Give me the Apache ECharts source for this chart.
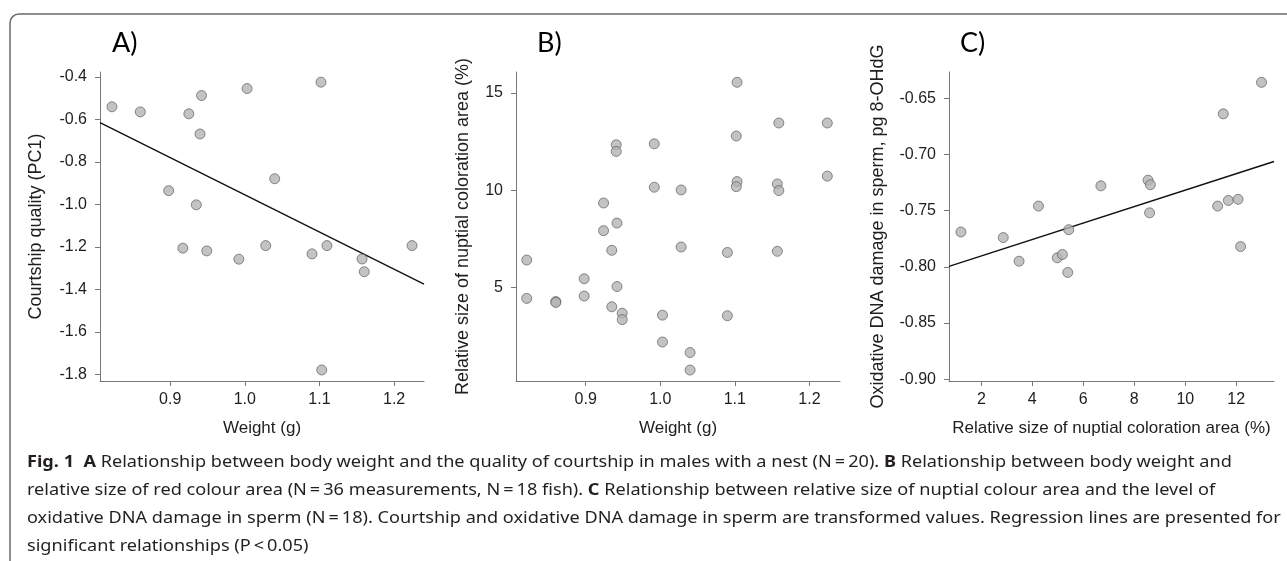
<!DOCTYPE html>
<html>
<head>
<meta charset="utf-8">
<script src="https://cdn.jsdelivr.net/npm/echarts@6/dist/echarts.min.js"></script>
<style>
html,body{margin:0;padding:0;background:#fff;}
#chart{width:1287px;height:561px;}
</style>
</head>
<body>
<div id="chart"></div>
<script>
// ---- Panel A: weight vs courtship quality ----
const weightA = [0.822,0.860,0.925,0.942,0.940,1.003,1.102,1.040,0.898,0.935,0.917,0.949,0.992,1.028,1.090,1.110,1.157,1.160,1.224,1.103];
const courtA  = [-0.540,-0.564,-0.573,-0.487,-0.668,-0.454,-0.424,-0.879,-0.935,-1.002,-1.206,-1.219,-1.258,-1.194,-1.233,-1.194,-1.257,-1.317,-1.194,-1.780];
const regAx = [0.806, 1.240];
const regAy = [-0.614, -1.375];

// ---- Panel B: weight vs nuptial coloration ----
const weightB = [1.103,1.159,1.224,1.102,0.941,0.941,0.992,0.992,1.028,1.103,1.102,1.157,1.159,1.224,0.924,0.942,0.924,0.935,1.028,1.090,1.157,0.821,0.821,0.860,0.860,0.898,0.898,0.942,0.935,0.949,0.949,1.003,1.003,1.040,1.040,1.090];
const colorB  = [15.55,13.46,13.46,12.79,12.34,12.00,12.39,10.16,10.02,10.45,10.19,10.33,9.99,10.73,9.35,8.32,7.93,6.92,7.09,6.81,6.87,6.42,4.45,4.29,4.24,5.46,4.57,5.06,4.02,3.69,3.36,3.59,2.21,1.67,0.77,3.56];

// ---- Panel C: coloration vs oxidative DNA damage ----
const colorC = [1.20,2.86,3.48,4.24,4.98,5.18,5.39,5.43,6.69,8.54,8.63,8.60,11.27,11.69,12.07,12.17,11.49,12.99];
const dnaC   = [-0.769,-0.774,-0.795,-0.746,-0.792,-0.789,-0.805,-0.767,-0.728,-0.723,-0.727,-0.752,-0.746,-0.741,-0.740,-0.782,-0.664,-0.636];
const regCx = [0.732, 13.48];
const regCy = [-0.7996, -0.7064];

// ---- Tick values ----
const ticksWeight = [0.9, 1.0, 1.1, 1.2];
const ticksCourt  = [-0.4, -0.6, -0.8, -1.0, -1.2, -1.4, -1.6, -1.8];
const ticksColorY = [5, 10, 15];
const ticksColorX = [2, 4, 6, 8, 10, 12];
const ticksDNA    = [-0.65, -0.70, -0.75, -0.80, -0.85, -0.90];

// ---- Texts ----
const panelLabels = ['A)', 'B)', 'C)'];
const titlesX = ['Weight (g)', 'Weight (g)', 'Relative size of nuptial coloration area (%)'];
const titlesY = ['Courtship quality (PC1)', 'Relative size of nuptial coloration area (%)', 'Oxidative DNA damage in sperm, pg 8-OHdG'];
const captionLines = [
  '{b|Fig. 1}  {b|A} Relationship between body weight and the quality of courtship in males with a nest (N\u2009=\u200920). {b|B} Relationship between body weight and',
  'relative size of red colour area (N\u2009=\u200936 measurements, N\u2009=\u200918 fish). {b|C} Relationship between relative size of nuptial colour area and the level of',
  'oxidative DNA damage in sperm (N\u2009=\u200918). Courtship and oxidative DNA damage in sperm are transformed values. Regression lines are presented for',
  'significant relationships (P\u2009<\u20090.05)'
];

const zip = (a, b) => a.map((v, i) => [v, b[i]]);

const AXC = '#777';
const TXT = '#1e1e1e';
const FF = '"Liberation Sans", Arial, sans-serif';
const CAPF = '"Noto Sans", "Open Sans", sans-serif';

function xAxis(idx, min, max, ticks, dec, name, gap) {
  return {
    type: 'value', gridIndex: idx, min: min, max: max,
    name: name, nameLocation: 'middle', nameGap: gap,
    nameTextStyle: { color: TXT, fontSize: 17, fontFamily: FF },
    splitLine: { show: false },
    axisLine: { show: true, onZero: false, lineStyle: { color: AXC, width: 1 } },
    axisTick: { show: true, length: 5, lineStyle: { color: AXC }, customValues: ticks },
    axisLabel: { color: TXT, fontSize: 16, fontFamily: FF, margin: 11, customValues: ticks,
      formatter: v => Number(v).toFixed(dec) }
  };
}
function yAxis(idx, min, max, ticks, dec, name, gap) {
  return {
    type: 'value', gridIndex: idx, min: min, max: max,
    name: name, nameLocation: 'middle', nameGap: gap, nameRotate: 90,
    nameTextStyle: { color: TXT, fontSize: 18, fontFamily: FF },
    splitLine: { show: false },
    axisLine: { show: true, onZero: false, lineStyle: { color: AXC, width: 1 } },
    axisTick: { show: true, length: 5, lineStyle: { color: AXC }, customValues: ticks },
    axisLabel: { color: TXT, fontSize: 16, fontFamily: FF, margin: 13, customValues: ticks,
      formatter: v => Number(v).toFixed(dec) }
  };
}

const pointStyle = { color: '#b4b4b4', borderColor: '#505050', borderWidth: 0.8 };

const option = {
  animation: false,
  backgroundColor: '#fff',
  grid: [
    { left: 100, top: 72, width: 324, height: 309 },
    { left: 516, top: 72, width: 324, height: 309 },
    { left: 949, top: 72, width: 325, height: 309 }
  ],
  xAxis: [
    xAxis(0, 0.806, 1.240, ticksWeight, 1, titlesX[0], 39),
    xAxis(1, 0.8066, 1.241, ticksWeight, 1, titlesX[1], 39),
    xAxis(2, 0.732, 13.48, ticksColorX, 0, titlesX[2], 39)
  ],
  yAxis: [
    yAxis(0, -1.832, -0.376, ticksCourt, 1, titlesY[0], 55),
    yAxis(1, 0.207, 16.08, ticksColorY, 0, titlesY[1], 44),
    yAxis(2, -0.9015, -0.6268, ticksDNA, 2, titlesY[2], 62)
  ],
  series: [
    { type: 'line', xAxisIndex: 0, yAxisIndex: 0, data: zip(regAx, regAy), symbol: 'none',
      lineStyle: { color: '#111', width: 1.4 }, z: 2 },
    { type: 'scatter', xAxisIndex: 0, yAxisIndex: 0, data: zip(weightA, courtA), symbolSize: 10,
      itemStyle: pointStyle, z: 3 },
    { type: 'scatter', xAxisIndex: 1, yAxisIndex: 1, data: zip(weightB, colorB), symbolSize: 10,
      itemStyle: pointStyle, z: 3 },
    { type: 'line', xAxisIndex: 2, yAxisIndex: 2, data: zip(regCx, regCy), symbol: 'none',
      lineStyle: { color: '#111', width: 1.4 }, z: 2 },
    { type: 'scatter', xAxisIndex: 2, yAxisIndex: 2, data: zip(colorC, dnaC), symbolSize: 10,
      itemStyle: pointStyle, z: 3 }
  ],
  graphic: [
    { type: 'rect', silent: true, shape: { x: 10, y: 14, width: 1500, height: 800, r: 9 },
      style: { fill: 'none', stroke: '#6a6a6a', lineWidth: 1.5 } },
    { type: 'text', x: 112, y: 43, style: { text: panelLabels[0], fill: '#000', fontSize: 27, fontFamily: 'Lato, "Open Sans", sans-serif', verticalAlign: 'middle' } },
    { type: 'text', x: 537, y: 43, style: { text: panelLabels[1], fill: '#000', fontSize: 27, fontFamily: 'Lato, "Open Sans", sans-serif', verticalAlign: 'middle' } },
    { type: 'text', x: 960, y: 43, style: { text: panelLabels[2], fill: '#000', fontSize: 27, fontFamily: 'Lato, "Open Sans", sans-serif', verticalAlign: 'middle' } }
  ].concat(captionLines.map((t, i) => ({
    type: 'text', x: 27, y: 462 + i * 28, scaleX: 1.133, scaleY: 1,
    style: { text: t, fill: '#231f20', fontSize: 16, fontFamily: CAPF,
      verticalAlign: 'middle', rich: { b: { fontWeight: 'bold', fontSize: 16, fontFamily: CAPF, fill: '#231f20' } } }
  })))
};

const chart = echarts.init(document.getElementById('chart'), null, { renderer: 'canvas' });
chart.setOption(option);
</script>
</body>
</html>
